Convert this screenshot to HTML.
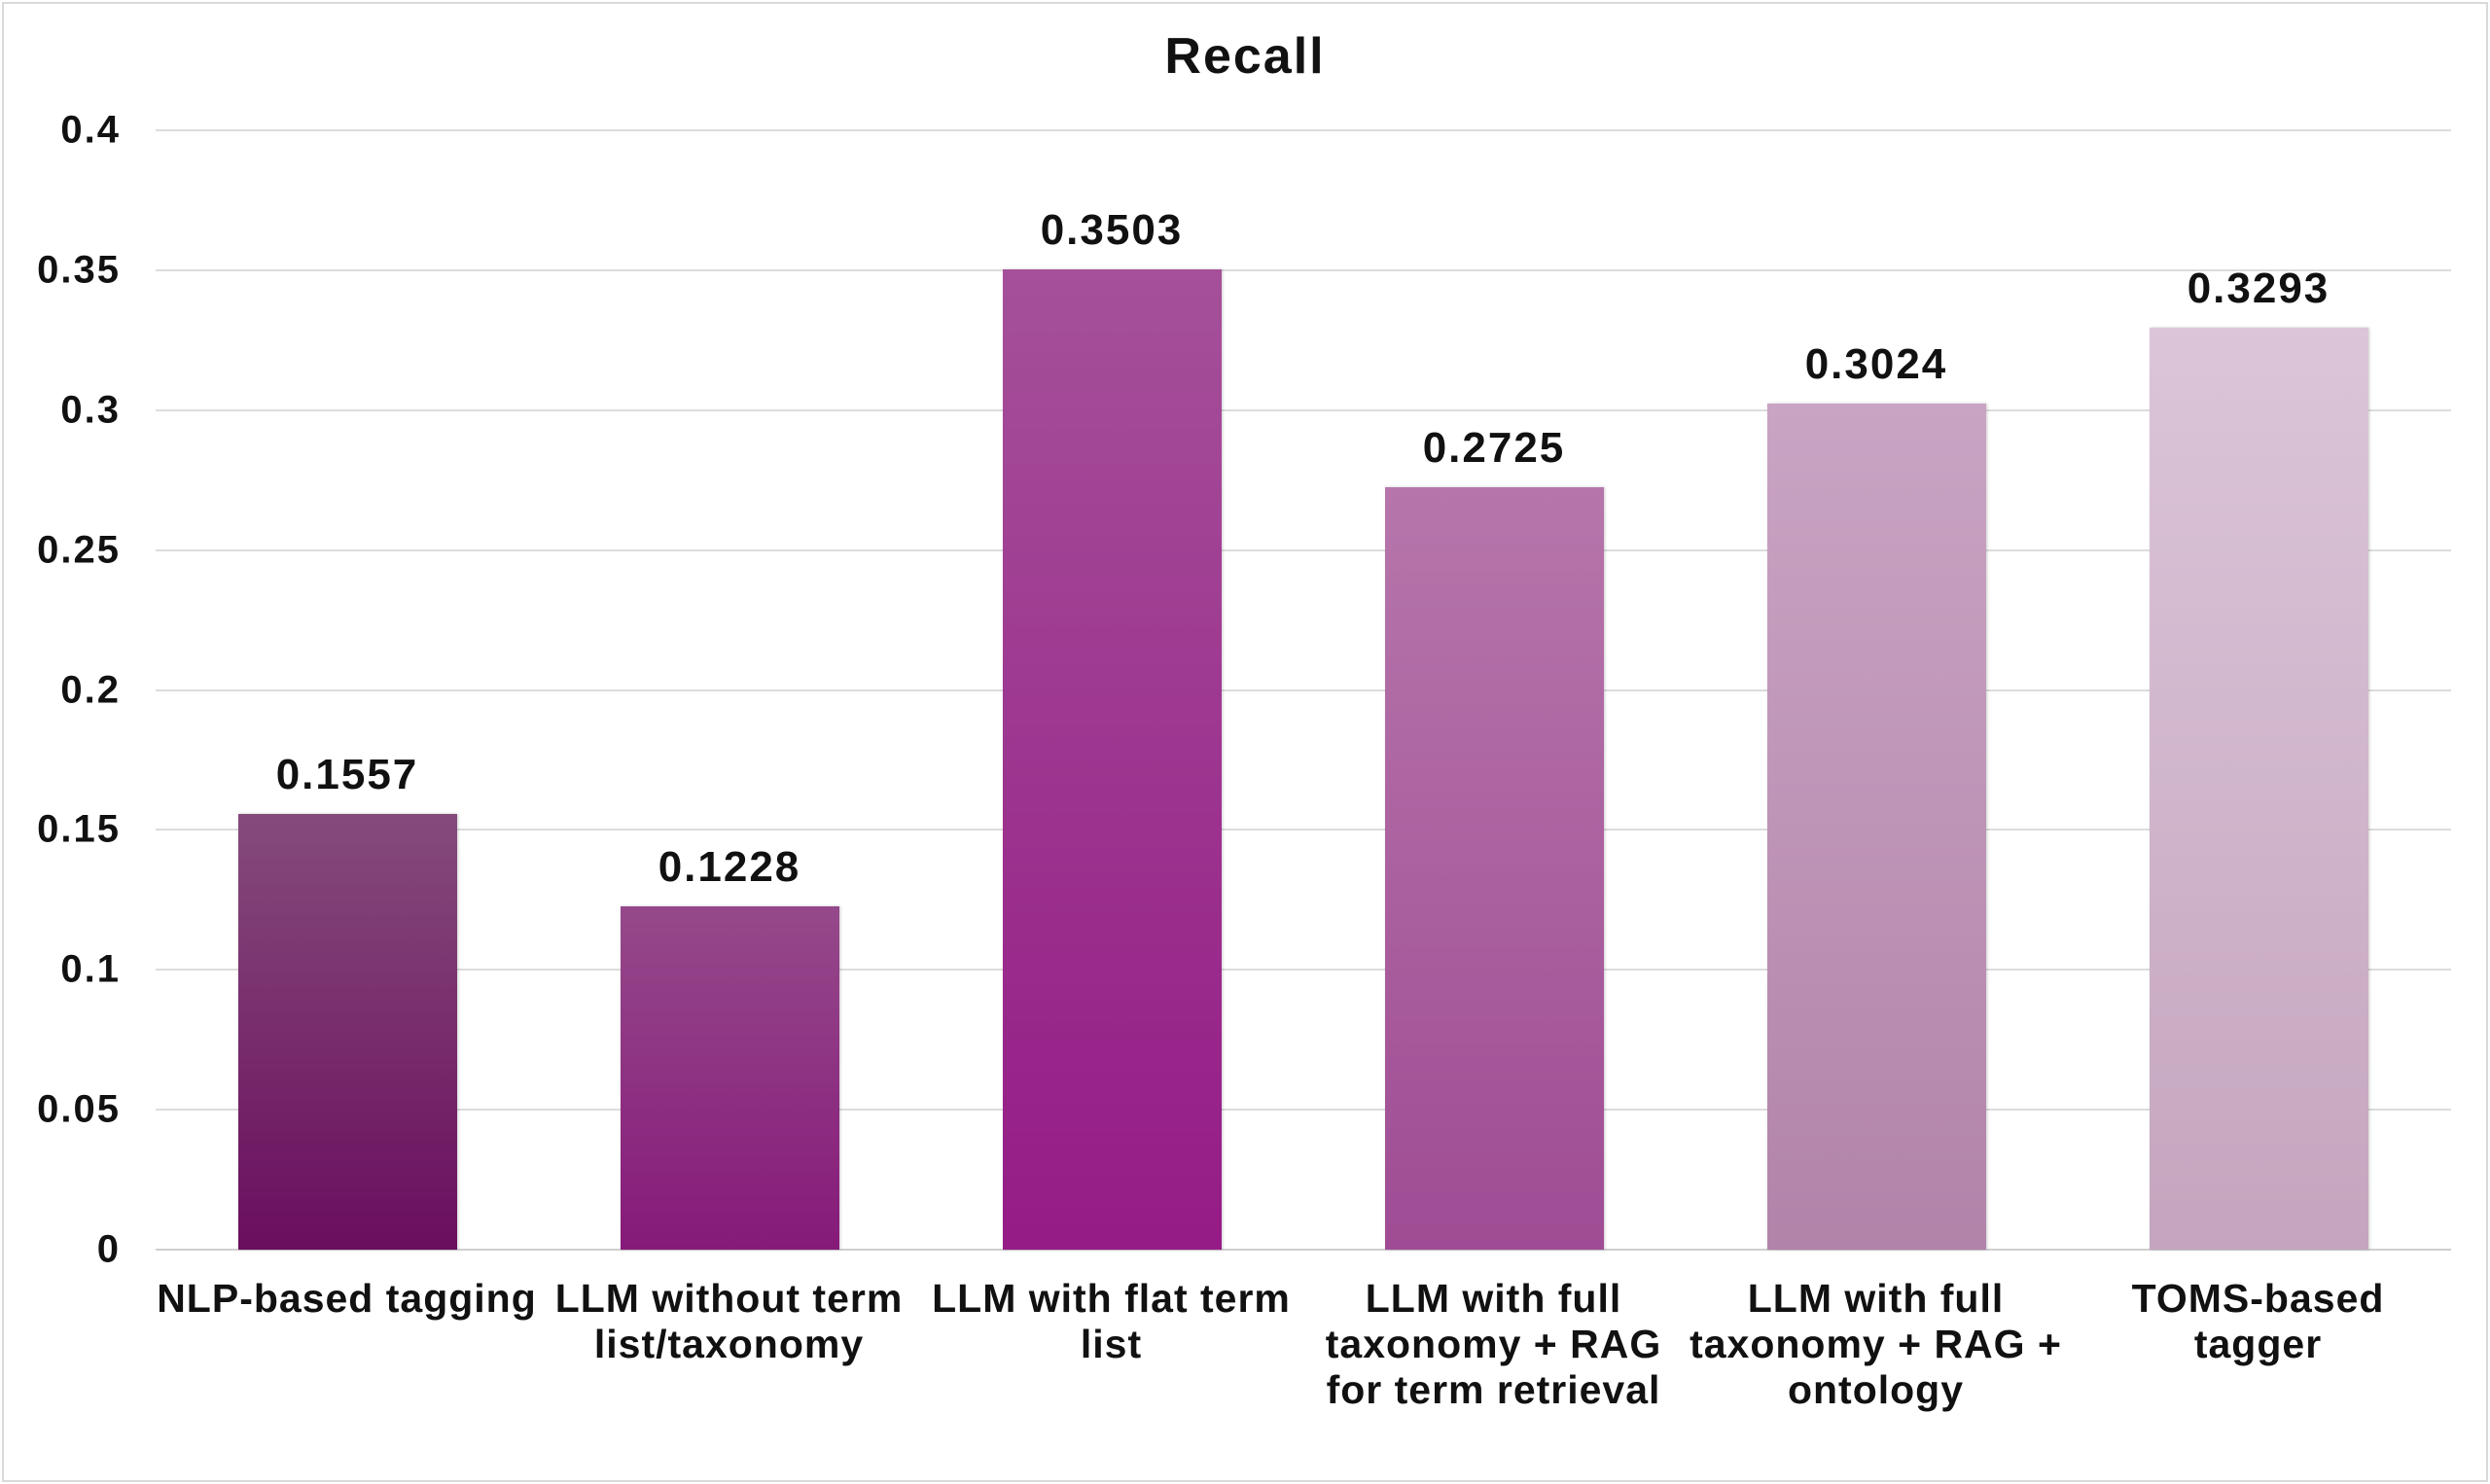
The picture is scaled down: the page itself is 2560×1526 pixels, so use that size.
<!DOCTYPE html>
<html><head><meta charset="utf-8"><style>
html,body{margin:0;padding:0;background:#fff;}
body{width:2560px;height:1526px;position:relative;overflow:hidden;font-family:"Liberation Sans",Arial,sans-serif;font-weight:bold;color:#111;}
.frame{position:absolute;left:2px;top:2px;width:2552px;height:1518px;border:2px solid #d9d9d9;}
.grid{position:absolute;left:160px;width:2360px;height:2px;background:#dcdcdc;}
.tick{position:absolute;right:2436px;font-size:40px;letter-spacing:2px;transform:translateY(-50%);}
.bar{position:absolute;width:225px;box-shadow:1px 0 3px rgba(0,0,0,0.2);}
.val{position:absolute;width:300px;text-align:center;font-size:44px;letter-spacing:2px;transform:translateY(-50%);}
.cat{position:absolute;width:393px;text-align:center;font-size:41px;letter-spacing:1px;line-height:47px;top:1312px;white-space:nowrap;}
.title{position:absolute;left:0;width:2560px;text-align:center;top:28px;font-size:52px;letter-spacing:2px;}
</style></head><body>
<div class="frame"></div>
<div class="title">Recall</div>
<div class="grid" style="top:133px"></div>
<div class="grid" style="top:277px"></div>
<div class="grid" style="top:421px"></div>
<div class="grid" style="top:565px"></div>
<div class="grid" style="top:709px"></div>
<div class="grid" style="top:852px"></div>
<div class="grid" style="top:996px"></div>
<div class="grid" style="top:1140px"></div>
<div class="grid" style="top:1284px;background:#cfcfcf"></div>
<div class="tick" style="top:134px">0.4</div>
<div class="tick" style="top:278px">0.35</div>
<div class="tick" style="top:422px">0.3</div>
<div class="tick" style="top:566px">0.25</div>
<div class="tick" style="top:710px">0.2</div>
<div class="tick" style="top:853px">0.15</div>
<div class="tick" style="top:997px">0.1</div>
<div class="tick" style="top:1141px">0.05</div>
<div class="tick" style="top:1285px">0</div>

<div class="bar" style="left:245px;top:837px;height:448px;background:linear-gradient(#854b7b,#6a0e5e)"></div>
<div class="bar" style="left:638px;top:932px;height:353px;background:linear-gradient(#95498a,#861a7a)"></div>
<div class="bar" style="left:1031px;top:277px;height:1008px;background:linear-gradient(#a55099,#951b86)"></div>
<div class="bar" style="left:1424px;top:501px;height:784px;background:linear-gradient(#b676ab,#9f4c94)"></div>
<div class="bar" style="left:1817px;top:415px;height:870px;background:linear-gradient(#c9a4c3,#b283aa)"></div>
<div class="bar" style="left:2210px;top:337px;height:948px;background:linear-gradient(#dcc5d8,#c4a5bf)"></div>

<div class="val" style="left:207px;top:797px">0.1557</div>
<div class="val" style="left:600px;top:892px">0.1228</div>
<div class="val" style="left:993px;top:237px">0.3503</div>
<div class="val" style="left:1386px;top:461px">0.2725</div>
<div class="val" style="left:1779px;top:375px">0.3024</div>
<div class="val" style="left:2172px;top:297px">0.3293</div>

<div class="cat" style="left:160px">NLP-based tagging</div>
<div class="cat" style="left:553px">LLM without term<br>list/taxonomy</div>
<div class="cat" style="left:946px">LLM with flat term<br>list</div>
<div class="cat" style="left:1339px">LLM with full<br>taxonomy + RAG<br>for term retrieval</div>
<div class="cat" style="left:1732px">LLM with full<br>taxonomy + RAG +<br>ontology</div>
<div class="cat" style="left:2125px">TOMS-based<br>tagger</div>
</body></html>
